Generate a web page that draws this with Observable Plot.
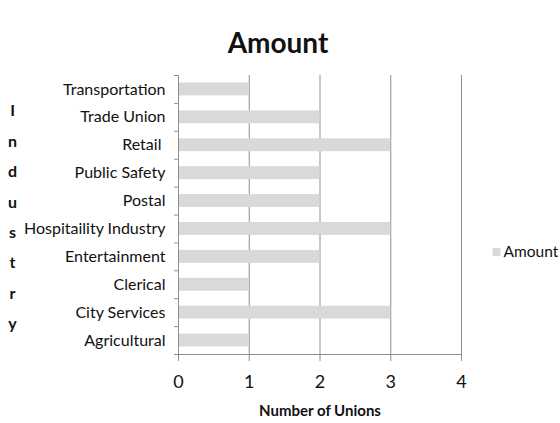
<!DOCTYPE html>
<html>
<head>
<meta charset="utf-8">
<script src="https://cdn.jsdelivr.net/npm/d3@7"></script>
<script src="https://cdn.jsdelivr.net/npm/@observablehq/plot@0.6"></script>
<style>
  html, body { margin: 0; padding: 0; background: #fff; }
</style>
</head>
<body>
<div id="chart"></div>
<script>
const categories = ["Transportation", "Trade Union", "Retail\u00a0", "Public Safety", "Postal", "Hospitaility Industry", "Entertainment", "Clerical", "City Services", "Agricultural"];
const values = [1, 2, 3, 2, 2, 3, 2, 1, 3, 1];
const xTicks = [0, 1, 2, 3, 4];
const title = "Amount";
const seriesName = "Amount";
const xLabel = "Number of Unions";
const yLabel = "Industry";

const W = 560, H = 423, mL = 178, mR = 99, mT = 75, mB = 69;
const bw = (H - mT - mB) / categories.length;
const data = categories.map((c, i) => ({industry: c, amount: values[i]}));
const gray = "#8e8e8e";
const barFill = "#d9d9d9";
const ink = "#111";

const chart = Plot.plot({
  width: W, height: H,
  marginLeft: mL, marginRight: mR, marginTop: mT, marginBottom: mB,
  style: {fontFamily: "Lato", fontSize: "16px", color: ink, background: "#fff"},
  x: {domain: [0, 4], axis: null},
  y: {domain: categories, axis: null, padding: 0, round: false},
  marks: [
    Plot.ruleX(xTicks.slice(1), {stroke: gray, strokeWidth: 1}),
    Plot.barX(data, {x: "amount", y: "industry", fill: barFill, insetTop: 7.5, insetBottom: 7.5, insetLeft: 1}),
    Plot.ruleX([0], {stroke: gray}),
    Plot.ruleY([categories[categories.length - 1]], {dy: bw / 2, stroke: gray}),
    Plot.axisY({ticks: categories, tickSize: 4, tickFormat: () => "", dy: -bw / 2, stroke: gray, label: null}),
    Plot.axisY({ticks: [categories[categories.length - 1]], tickSize: 4, tickFormat: () => "", dy: bw / 2, stroke: gray, label: null}),
    Plot.axisY({tickSize: 0, tickPadding: 13, fontSize: 16, fill: ink, label: null}),
    Plot.axisX({ticks: xTicks, tickFormat: "d", tickSize: 7, tickPadding: 14, stroke: gray, fill: ink, fontSize: 18, label: null}),
    Plot.text([title], {frameAnchor: "top", dx: -42, dy: -31, fontSize: 28, fontWeight: "bold", lineAnchor: "middle", fill: ink}),
    Plot.text([yLabel], {text: d => d.split("").join("\n"), frameAnchor: "left", dx: -166, dy: -2, lineHeight: 1.9, fontWeight: "bold", fontSize: 16, lineAnchor: "middle", textAnchor: "middle", fill: ink}),
    Plot.dot([seriesName], {frameAnchor: "right", dx: 35, dy: 37, symbol: "square", r: 4.5, fill: barFill}),
    Plot.text([seriesName], {frameAnchor: "right", dx: 42, dy: 37, textAnchor: "start", fontSize: 15.5, fill: ink}),
    Plot.text([xLabel], {frameAnchor: "bottom", dy: 61, fontWeight: "bold", fontSize: 15, fill: ink})
  ]
});
document.getElementById("chart").append(chart);
</script>
</body>
</html>
